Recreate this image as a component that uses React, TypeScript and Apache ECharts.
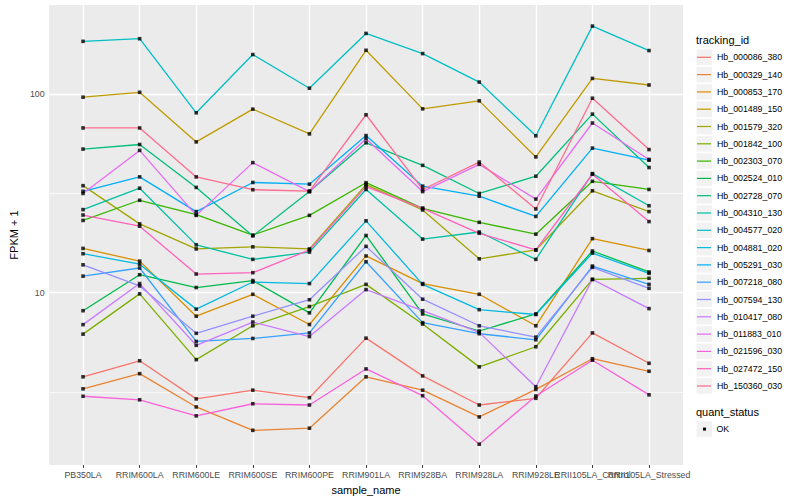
import React, { useEffect, useRef } from "react";
import * as echarts from "echarts";

const categories = [
  "PB350LA", "RRIM600LA", "RRIM600LE", "RRIM600SE", "RRIM600PE", "RRIM901LA",
  "RRIM928BA", "RRIM928LA", "RRIM928LE", "RRII105LA_Control", "RRII105LA_Stressed",
];

const seriesNames = [
  "Hb_000086_380", "Hb_000329_140", "Hb_000853_170", "Hb_001489_150", "Hb_001579_320",
  "Hb_001842_100", "Hb_002303_070", "Hb_002524_010", "Hb_002728_070", "Hb_004310_130",
  "Hb_004577_020", "Hb_004881_020", "Hb_005291_030", "Hb_007218_080", "Hb_007594_130",
  "Hb_010417_080", "Hb_011883_010", "Hb_021596_030", "Hb_027472_150", "Hb_150360_030",
];

const seriesColors = [
  "#F8766D", "#EA8331", "#D89000", "#C09B00", "#A3A500",
  "#7CAE00", "#39B600", "#00BB4E", "#00BF7D", "#00C1A3",
  "#00BFC4", "#00BAE0", "#00B0F6", "#35A2FF", "#9590FF",
  "#C77CFF", "#E76BF3", "#FA62DB", "#FF62BC", "#FF6C91",
];

// FPKM + 1 values, one array per tracking_id, in category order
const hb000086_380 = [3.76, 4.53, 2.91, 3.22, 2.95, 5.89, 3.8, 2.71, 2.93, 6.26, 4.4];
const hb000329_140 = [3.27, 3.9, 2.65, 2.02, 2.07, 3.76, 3.22, 2.36, 3.25, 4.64, 4.01];
const hb000853_170 = [16.7, 14.4, 7.6, 9.8, 6.9, 15.3, 11.1, 9.8, 6.8, 18.7, 16.3];
const hb001489_150 = [96.6, 102.3, 57.5, 84.1, 63.1, 166.6, 84.4, 92.6, 48.3, 120.2, 111.3];
const hb001579_320 = [34.6, 22.2, 16.6, 17.0, 16.6, 35.0, 26.1, 14.8, 16.4, 32.6, 25.6];
const hb001842_100 = [6.17, 9.85, 4.59, 6.8, 8.5, 11.0, 6.94, 4.22, 5.33, 11.65, 11.8];
const hb002303_070 = [23.1, 29.2, 24.7, 19.5, 24.5, 35.8, 26.6, 22.6, 19.7, 36.4, 33.1];
const hb002524_010 = [8.1, 12.3, 10.6, 11.5, 7.9, 19.4, 7.8, 6.4, 7.8, 16.2, 12.7];
const hb002728_070 = [52.9, 55.8, 33.9, 19.3, 32.3, 56.9, 43.8, 31.6, 38.6, 79.4, 42.7];
const hb004310_130 = [26.2, 33.6, 17.4, 14.7, 16.0, 33.1, 18.6, 20.2, 14.7, 39.8, 27.4];
const hb004577_020 = [184.8, 190.5, 80.6, 158.5, 107.2, 202.6, 160.3, 115.2, 61.7, 220.6, 166.0];
const hb004881_020 = [15.7, 13.9, 8.25, 11.3, 11.1, 23.0, 11.0, 8.2, 7.75, 15.8, 12.5];
const hb005291_030 = [32.4, 38.3, 25.6, 35.9, 35.2, 61.9, 34.4, 30.6, 24.2, 53.5, 46.5];
const hb007218_080 = [12.1, 13.3, 5.67, 5.87, 6.26, 14.3, 7.05, 6.2, 5.78, 13.6, 11.0];
const hb007594_130 = [13.8, 10.8, 6.23, 7.6, 9.2, 17.1, 9.26, 6.8, 5.96, 13.4, 10.5];
const hb010417_080 = [6.89, 11.1, 5.42, 7.1, 6.0, 10.35, 8.1, 6.3, 3.35, 11.65, 8.3];
const hb011883_010 = [31.6, 52.1, 24.5, 45.2, 32.3, 59.6, 32.3, 44.3, 29.6, 71.6, 46.9];
const hb021596_030 = [3.0, 2.88, 2.39, 2.75, 2.71, 4.12, 3.02, 1.72, 3.01, 4.56, 3.05];
const hb027472_150 = [24.6, 21.6, 12.4, 12.6, 16.4, 34.2, 26.6, 19.9, 16.4, 39.5, 22.8];
const hb150360_030 = [67.6, 67.6, 38.3, 33.0, 32.5, 78.8, 33.1, 45.5, 26.4, 95.5, 52.6];

const seriesValues = [
  hb000086_380, hb000329_140, hb000853_170, hb001489_150, hb001579_320,
  hb001842_100, hb002303_070, hb002524_010, hb002728_070, hb004310_130,
  hb004577_020, hb004881_020, hb005291_030, hb007218_080, hb007594_130,
  hb010417_080, hb011883_010, hb021596_030, hb027472_150, hb150360_030,
];

const yTicks = [10, 100];
const yMinorLines = [3.1623, 31.623];
const statusLevels = ["OK"];

const FONT = "'Liberation Sans', Arial, Helvetica, sans-serif";

export default function App() {
  const ref = useRef<HTMLDivElement>(null);

  useEffect(() => {
    if (!ref.current) return;
    const chart = echarts.init(ref.current, undefined, { renderer: "svg" });
    const catIdx = categories.map((_, i) => i);
    const xMin = -0.6;
    const xMax = categories.length - 1 + 0.6;

    const lineSeries = seriesNames.map((name, s) => ({
      type: "line",
      name,
      data: seriesValues[s].map((v, i) => [i, v]),
      showSymbol: false,
      symbol: "none",
      z: 2,
      silent: true,
      itemStyle: { color: seriesColors[s] },
      lineStyle: { color: seriesColors[s], width: 1.3 },
    }));

    const points: number[][] = [];
    seriesValues.forEach((arr) => arr.forEach((v, i) => points.push([i, v])));

    const white = (w: number) => ({ color: "#FFFFFF", width: w, type: "solid" });
    const gridSeries = {
      type: "line",
      name: "__grid",
      data: [],
      silent: true,
      z: 1,
      markLine: {
        silent: true,
        z: 1,
        symbol: ["none", "none"],
        label: { show: false },
        emphasis: { disabled: true },
        data: [
          ...yMinorLines.map((v) => ({ yAxis: v, lineStyle: white(0.7) })),
          ...yTicks.map((v) => ({ yAxis: v, lineStyle: white(1.4) })),
          ...catIdx.map((i) => ({ xAxis: i, lineStyle: white(1.4) })),
        ],
      },
    };

    const legendTop = 48.65;
    const step = 17.3;
    const keyBoxes = seriesNames.map((_, i) => ({
      type: "rect",
      shape: { x: 696.5, y: legendTop + i * step + 0.9, width: 15.5, height: 15.5 },
      style: { fill: "#F2F2F2" },
      silent: true,
      z: -1,
    }));

    const option = {
      animation: false,
      backgroundColor: "#FFFFFF",
      textStyle: { fontFamily: FONT },
      grid: {
        left: 40, right: 117, top: 5, bottom: 31,
        show: true, backgroundColor: "#EBEBEB", borderWidth: 0,
      },
      xAxis: {
        type: "value",
        min: xMin,
        max: xMax,
        axisLine: { show: false },
        splitLine: { show: false },
        axisTick: {
          show: true, length: 2.75, customValues: catIdx,
          lineStyle: { color: "#333333", width: 1.07 },
        },
        axisLabel: {
          // trailing boundary value carries a blank label so the overlap fixer
          // drops that blank one instead of a real category name
          customValues: [...catIdx, xMax],
          formatter: (v: number) =>
            Number.isInteger(v) && categories[v] !== undefined ? categories[v] : " ",
          fontSize: 8.8, color: "#4D4D4D", margin: 5, hideOverlap: false,
          fontFamily: FONT,
        },
        name: "sample_name",
        nameLocation: "middle",
        nameGap: 14,
        nameTextStyle: { fontSize: 11, color: "#000000", fontFamily: FONT },
      },
      yAxis: {
        type: "log",
        logBase: 10,
        min: 1.349,
        max: 281.8,
        axisLine: { show: false },
        splitLine: { show: false },
        minorSplitLine: { show: false },
        axisTick: {
          show: true, length: 2.75, customValues: yTicks,
          lineStyle: { color: "#333333", width: 1.07 },
        },
        axisLabel: {
          customValues: yTicks,
          formatter: (v: number) => String(Math.round(v)),
          fontSize: 8.8, color: "#4D4D4D", margin: 4.5, fontFamily: FONT,
          showMinLabel: true, showMaxLabel: true,
        },
        name: "FPKM + 1",
        nameLocation: "middle",
        nameRotate: 90,
        nameGap: 22,
        nameTextStyle: { fontSize: 11, color: "#000000", fontFamily: FONT },
      },
      legend: {
        data: seriesNames,
        orient: "vertical",
        left: 697,
        top: legendTop,
        padding: 0,
        itemWidth: 14,
        itemHeight: 14,
        itemGap: 0,
        icon: "path://M0,0 L16,0 L16,1.4 L0,1.4 Z",
        selectedMode: false,
        textStyle: {
          fontSize: 8.8, color: "#000000", fontFamily: FONT,
          lineHeight: step, height: step, padding: [0, 0, 0, 1],
        },
      },
      graphic: [
        {
          type: "text", left: 696, top: 34.5, silent: true,
          style: { text: "tracking_id", fontSize: 11, fill: "#000000", fontFamily: FONT },
        },
        ...keyBoxes,
        {
          type: "text", left: 696, top: 406.5, silent: true,
          style: { text: "quant_status", fontSize: 11, fill: "#000000", fontFamily: FONT },
        },
        {
          type: "rect", silent: true,
          shape: { x: 696.5, y: 421.3, width: 15.5, height: 15.5 },
          style: { fill: "#F2F2F2" },
        },
        {
          type: "rect", silent: true,
          shape: { x: 703, y: 427.6, width: 3, height: 3 },
          style: { fill: "#000000" },
        },
        {
          type: "text", left: 716.5, top: 424.5, silent: true,
          style: { text: statusLevels[0], fontSize: 8.8, fill: "#000000", fontFamily: FONT },
        },
      ],
      series: [
        gridSeries,
        ...lineSeries,
        {
          type: "scatter",
          name: statusLevels[0],
          data: points,
          symbol: "rect",
          symbolSize: 3.6,
          itemStyle: { color: "#000000" },
          z: 3,
          silent: true,
        },
      ],
    };

    chart.setOption(option as any);
    return () => chart.dispose();
  }, []);

  return (
    <div
      ref={ref}
      style={{ position: "fixed", left: 0, top: 0, width: 800, height: 500, background: "#FFFFFF" }}
    />
  );
}
